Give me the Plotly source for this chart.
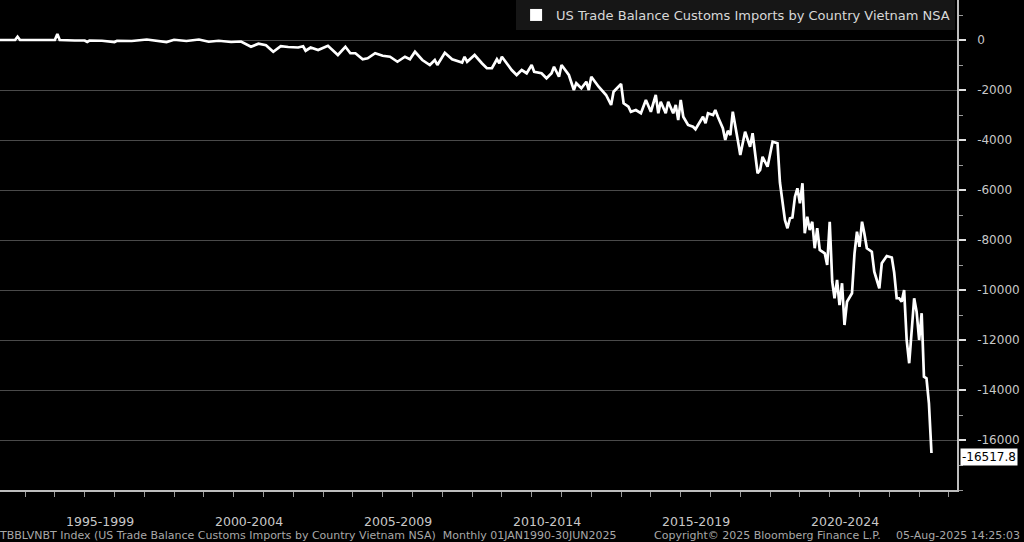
import plotly.graph_objects as go

# ---- data ----
dates = [
    "1994-01", "1994-03", "1994-09", "1994-10", "1994-11", "1995-06", "1996-01", "1996-02", "1996-03",
    "1996-09", "1997-01", "1997-02", "1997-03", "1997-08", "1998-01", "1998-02", "1998-08",
    "1999-02", "1999-06", "1999-10", "2000-01", "2000-06", "2000-11", "2001-03", "2001-07",
    "2001-12", "2002-04", "2002-08", "2002-11", "2003-02", "2003-05", "2003-08", "2003-11",
    "2004-03", "2004-05", "2004-06", "2004-08", "2004-11", "2005-03", "2005-07", "2005-10",
    "2005-12", "2006-02", "2006-05", "2006-07", "2006-10", "2007-01", "2007-04", "2007-07",
    "2007-10", "2007-12", "2008-02", "2008-05", "2008-08", "2008-10", "2008-11", "2009-02",
    "2009-05", "2009-09", "2009-10", "2009-11", "2010-02", "2010-05", "2010-07", "2010-09",
    "2010-11", "2010-12", "2011-01", "2011-05", "2011-07", "2011-09", "2011-11", "2012-01",
    "2012-02", "2012-05", "2012-07", "2012-09", "2012-10", "2012-12", "2013-01", "2013-04",
    "2013-06", "2013-07", "2013-09", "2013-11", "2013-12", "2014-01", "2014-04", "2014-07",
    "2014-09", "2014-10", "2015-01", "2015-02", "2015-04", "2015-05", "2015-07", "2015-09",
    "2015-11", "2016-01", "2016-03", "2016-04", "2016-05", "2016-07", "2016-08", "2016-10",
    "2016-11", "2016-12", "2017-01", "2017-02", "2017-04", "2017-06", "2017-07", "2017-08",
    "2017-10", "2017-11", "2017-12", "2018-02", "2018-03", "2018-04", "2018-06", "2018-07",
    "2018-08", "2018-09", "2018-10", "2018-12", "2019-01", "2019-03", "2019-05", "2019-06",
    "2019-08", "2019-09", "2019-10", "2019-12", "2020-02", "2020-04", "2020-05", "2020-07",
    "2020-08", "2020-09", "2020-10", "2020-11", "2020-12", "2021-01", "2021-02", "2021-03",
    "2021-04", "2021-05", "2021-06", "2021-07", "2021-08", "2021-09", "2021-11", "2021-12",
    "2022-01", "2022-02", "2022-03", "2022-04", "2022-05", "2022-06", "2022-07", "2022-08",
    "2022-10", "2022-11", "2022-12", "2023-01", "2023-02", "2023-03", "2023-04", "2023-06",
    "2023-07", "2023-09", "2023-10", "2023-12", "2024-02", "2024-03", "2024-04", "2024-05",
    "2024-06", "2024-07", "2024-08", "2024-09", "2024-10", "2024-11", "2024-12", "2025-01",
    "2025-02", "2025-03", "2025-04", "2025-05", "2025-06",
]
balance = [
    0, 0, 0, 130, 0, 0, 0, 240, 0,
    -20, -20, -80, -20, -30, -80, -30, -40,
    20, -30, -80, 10, -40, 20, -70, -30,
    -80, -60, -270, -150, -210, -470, -250, -280,
    -300, -250, -430, -300, -400, -230, -600, -270,
    -530, -530, -770, -730, -530, -630, -670, -870,
    -670, -770, -470, -800, -1000, -800, -1000, -510,
    -770, -900, -670, -870, -600, -930, -1130, -1130,
    -770, -930, -670, -1200, -1400, -1200, -1330, -1000,
    -1270, -1330, -1530, -1330, -1070, -1470, -1000, -1400,
    -2000, -1730, -1930, -1670, -2000, -1470, -1870, -2200,
    -2600, -2070, -1760, -2530, -2670, -2870, -2800, -2930,
    -2400, -2870, -2200, -2930, -2470, -2930, -2470, -2930,
    -2600, -3200, -2400, -3070, -3400, -3470, -3570, -3400,
    -3070, -3330, -2930, -3000, -2800, -3070, -3530, -4000,
    -3630, -3800, -2870, -4000, -4600, -3670, -4270, -3730,
    -5330, -5200, -4670, -5070, -4070, -4130, -5700, -7200,
    -7530, -7130, -7100, -6270, -5930, -6530, -5730, -7730,
    -7070, -7600, -7270, -8330, -7530, -8400, -8530, -9000,
    -7270, -9670, -10330, -9600, -10600, -9730, -11400, -10470,
    -10130, -8530, -7670, -8270, -7270, -7730, -8330, -8470,
    -9270, -9930, -8930, -8640, -8700, -9300, -10330, -10330,
    -10470, -10000, -12000, -12930, -11470, -10330, -10870, -12000,
    -10930, -13470, -13530, -14530, -16517.8,
]
series_name = "US Trade Balance Customs Imports by Country Vietnam NSA"
period_starts = ["1995-01-01", "2000-01-01", "2005-01-01", "2010-01-01",
                 "2015-01-01", "2020-01-01", "2025-01-01"]
period_mids = ["1997-07-02", "2002-07-02", "2007-07-02", "2012-07-02",
               "2017-07-02", "2022-07-02"]
period_labels = ["1995-1999", "2000-2004", "2005-2009", "2010-2014",
                 "2015-2019", "2020-2024"]
y_ticks = [0, -2000, -4000, -6000, -8000, -10000, -12000, -14000, -16000]
y_ticktext = ["0", "-2000", "-4000", "-6000", "-8000", "-10000", "-12000", "-14000", "-16000"]
last_value_text = "-16517.8"
footer_left = "TBBLVNBT Index (US Trade Balance Customs Imports by Country Vietnam NSA)  Monthly 01JAN1990-30JUN2025"
footer_mid = "Copyright\u00a9 2025 Bloomberg Finance L.P."
footer_right = "05-Aug-2025 14:25:03"

FONT = "DejaVu Sans"
TXT = "#c8c8c8"
FOOT = "#a8a8a8"

fig = go.Figure()
fig.add_trace(go.Scatter(
    x=dates, y=balance, mode="lines",
    line=dict(color="white", width=2.7),
    showlegend=False, hoverinfo="skip",
))
# legend entry with a square swatch
fig.add_trace(go.Scatter(
    x=[None], y=[None], mode="markers", name=series_name,
    marker=dict(symbol="square", color="white", size=12),
    showlegend=True,
))

annotations = []
for xm, lab in zip(period_mids, period_labels):
    annotations.append(dict(
        x=xm, xref="x", y=0, yref="paper", yshift=-31, yanchor="middle",
        text=lab, showarrow=False, font=dict(family=FONT, size=12.5, color=TXT),
    ))
annotations.append(dict(
    x=1.0, xref="paper", y=balance[-1], yref="y", xanchor="left", xshift=3, yshift=-4,
    text=last_value_text, showarrow=False, bgcolor="white", borderpad=1,
    font=dict(family=FONT, size=12, color="black"),
))
for xp, xa, txt in [(-0.003, "left", footer_left), (652 / 957, "left", footer_mid),
                    (1022 / 957, "right", footer_right)]:
    annotations.append(dict(
        x=xp, xref="paper", y=0, yref="paper", yshift=-45, yanchor="middle", xanchor=xa,
        text=txt, showarrow=False, font=dict(family=FONT, size=11, color=FOOT),
    ))

fig.update_layout(
    width=1024, height=542,
    paper_bgcolor="black", plot_bgcolor="black",
    margin=dict(l=0, r=67, t=0, b=52),
    font=dict(family=FONT, color=TXT),
    showlegend=True,
    legend=dict(
        x=0.998, xanchor="right", y=1.0, yanchor="top",
        bgcolor="#161616", borderwidth=0,
        font=dict(family=FONT, size=13, color="#d8d8d8"),
        itemsizing="constant", itemwidth=30,
        tracegroupgap=0,
    ),
    annotations=annotations,
    xaxis=dict(
        type="date",
        range=["1994-02-28", "2026-04-10"],
        showgrid=False, zeroline=False,
        showline=True, linecolor="#bdbdbd", linewidth=1.5,
        tickmode="array", tickvals=period_starts, ticktext=[""] * len(period_starts),
        ticks="outside", ticklen=40, tickwidth=1, tickcolor="#9a9a9a",
        showticklabels=False,
        minor=dict(dtick="M12", tick0="1995-01-01", ticks="outside", ticklen=5,
                   tickwidth=1, tickcolor="#9a9a9a", showgrid=False),
    ),
    yaxis=dict(
        side="right",
        range=[-18000, 1600],
        tickmode="array", tickvals=y_ticks, ticktext=y_ticktext,
        showgrid=True, gridcolor="#4a4a4a", gridwidth=1.2,
        zeroline=False,
        showline=True, linecolor="#bdbdbd", linewidth=1.5,
        ticks="outside", ticklen=7, tickwidth=2, tickcolor="#e0e0e0",
        tickfont=dict(family=FONT, size=12, color=TXT),
        ticklabelstandoff=9,
        minor=dict(dtick=1000, ticks="outside", ticklen=4, tickwidth=1,
                   tickcolor="#9a9a9a", showgrid=False),
    ),
)

fig.write_html("out.html", config={"displayModeBar": False},
               post_script="document.body.style.margin='0';")
